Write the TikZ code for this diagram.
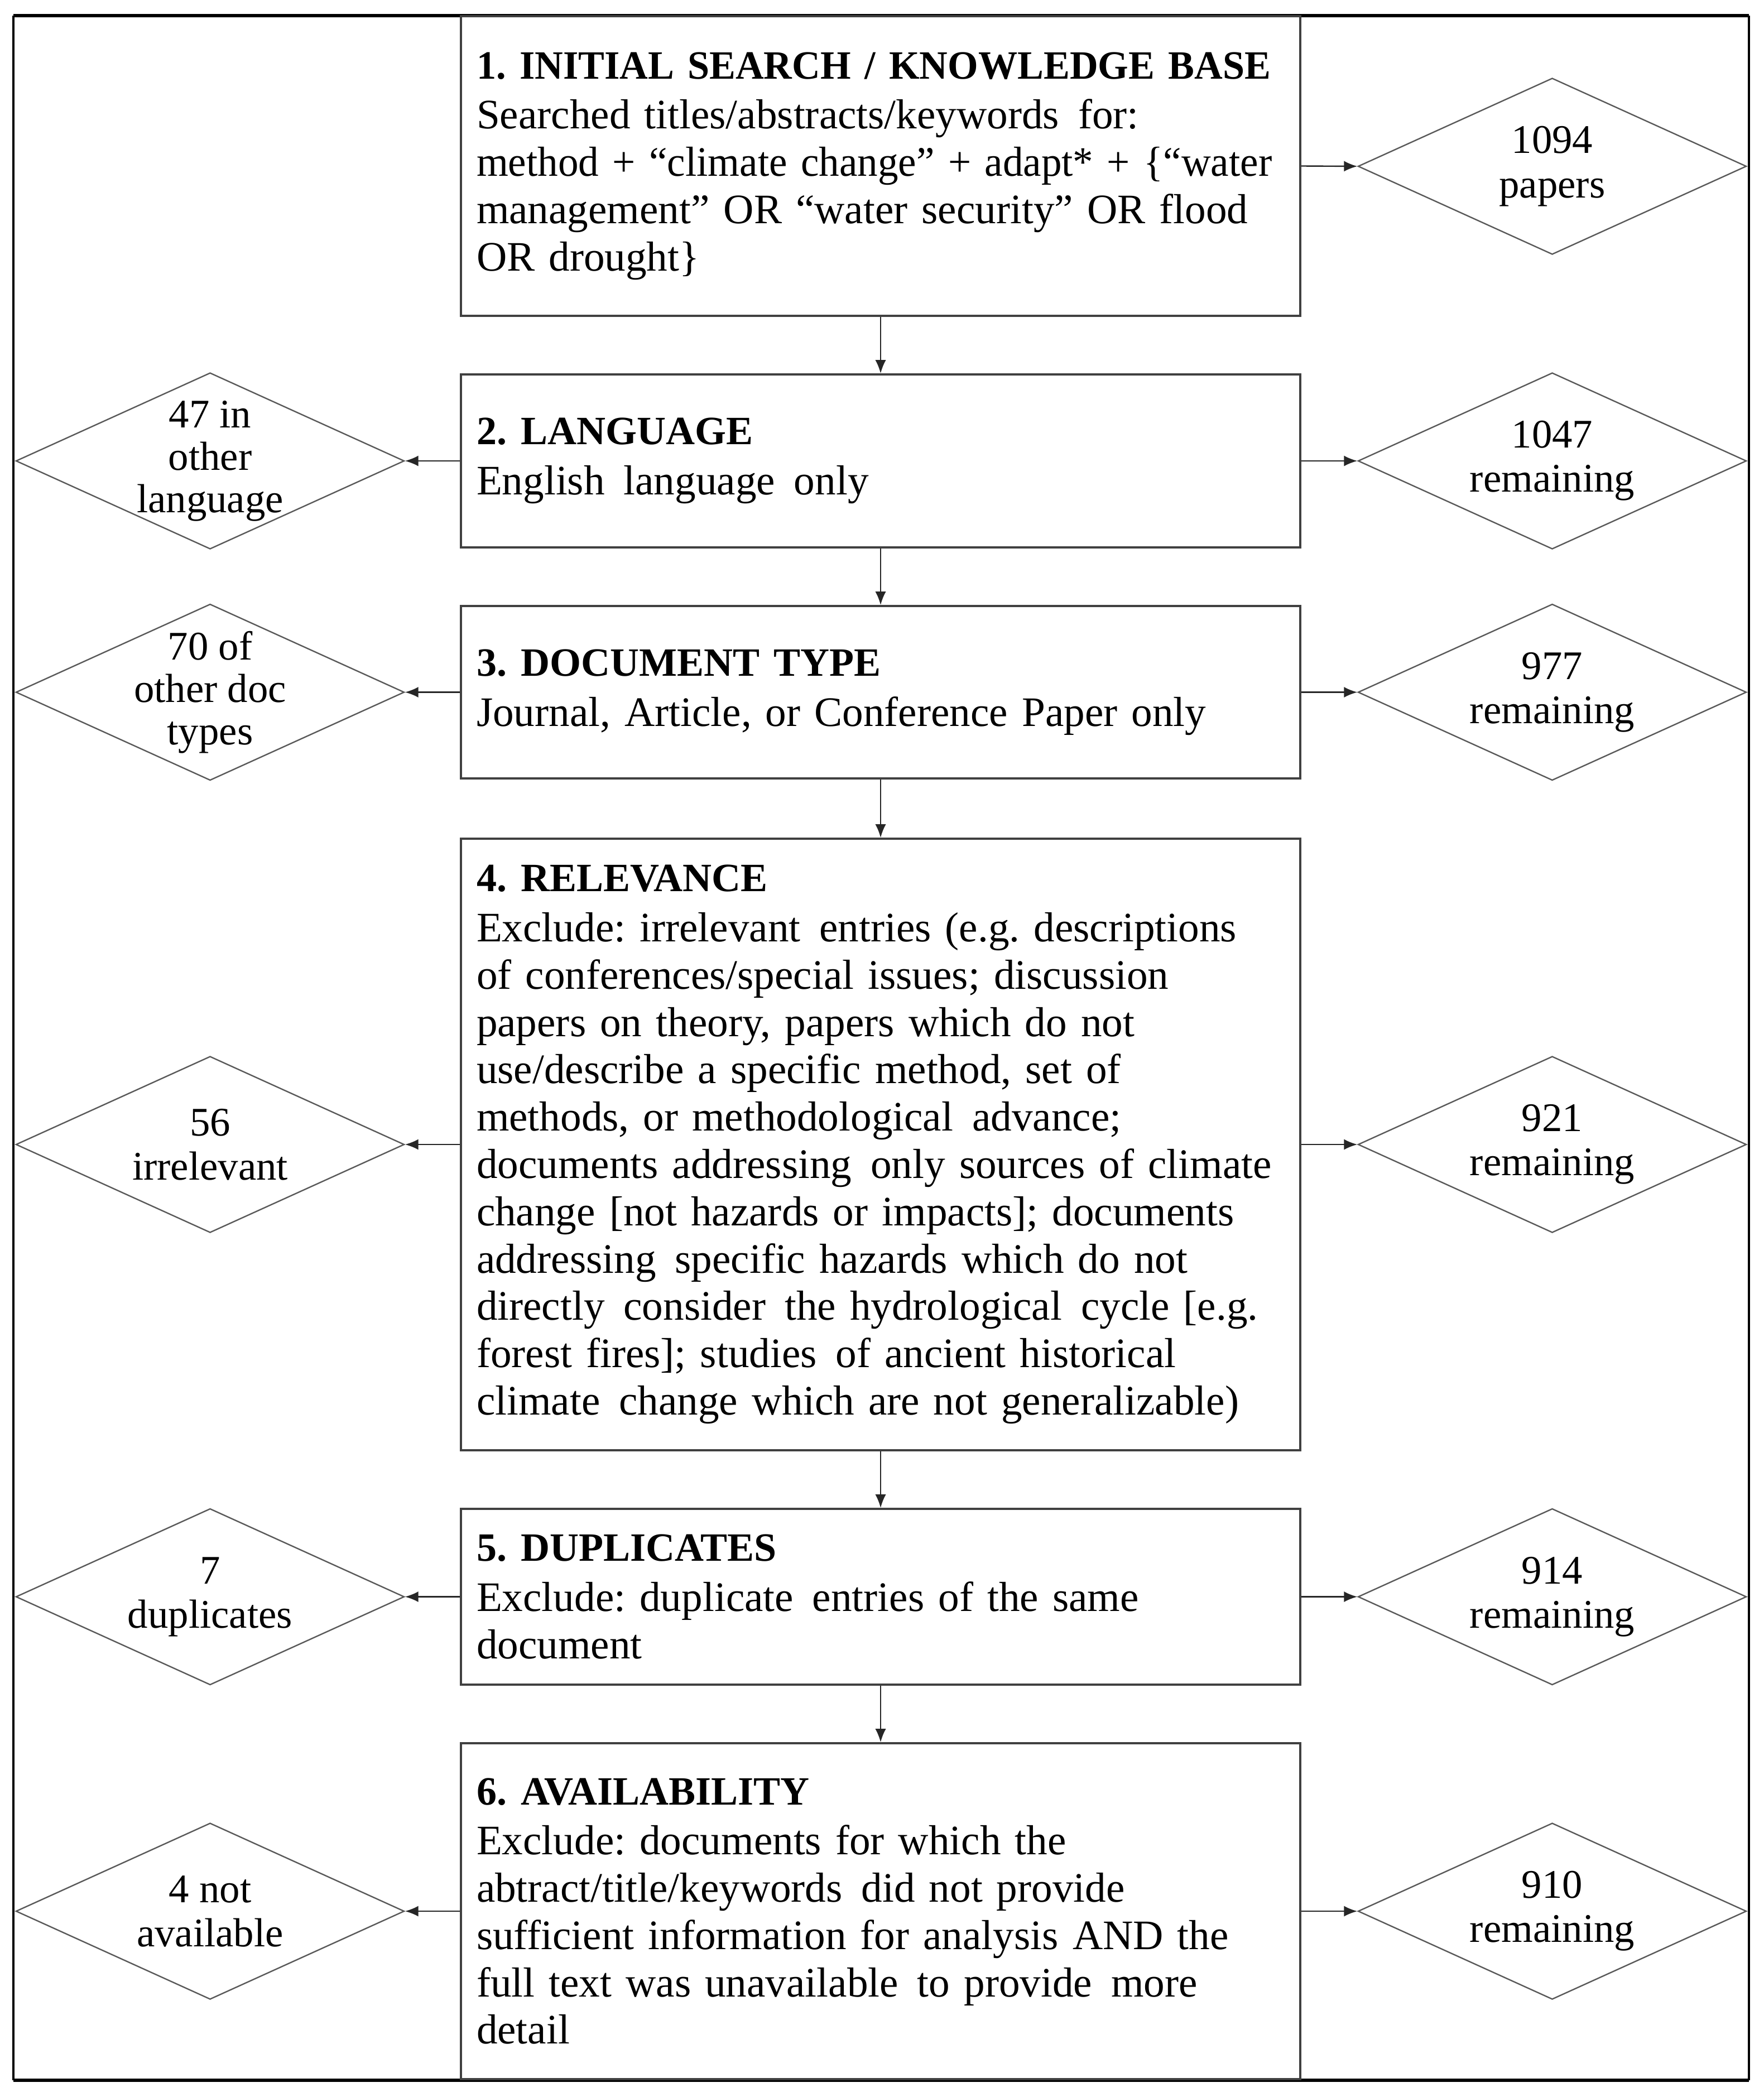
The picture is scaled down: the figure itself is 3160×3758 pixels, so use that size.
\documentclass[tikz,border=0pt]{standalone}
\usepackage{fontspec}
\setmainfont{Liberation Serif}
\usetikzlibrary{shapes.geometric,arrows.meta}
\newcommand\ttl[1]{{\fontsize{18}{21.2}\selectfont\bfseries #1}}
\newcommand\dsp{\hspace{0.45em}}
\begin{document}
\frenchspacing
\begin{tikzpicture}[x=0.25pt,y=-0.25pt,
  box/.style={draw=black!75, line width=0.9pt, rectangle, text width=362pt,
    inner xsep=7pt, inner ysep=0pt, align=left,
    font=\fontsize{18.8}{21.2}\selectfont, minimum height=#1},
  dia/.style={draw=black!65, line width=0.6pt, diamond, minimum width=174pt,
    minimum height=79pt, inner sep=0pt},
  dtext/.style={align=center, font=\fontsize{18.2}{19.8}\selectfont, inner sep=0pt},
  dtextc/.style={align=center, font=\fontsize{18.2}{19}\selectfont, inner sep=0pt},
  arr/.style={-{Latex[length=6pt,width=4.8pt]}, line width=0.6pt, black!85},
  frame/.style={line width=#1, black}]
\useasboundingbox (0,0) rectangle (3160,3758);
% outer frame
\coordinate (tl) at (24,28); \coordinate (tr) at (3134,28);
\coordinate (bl) at (24,3728); \coordinate (br) at (3134,3728);
\draw[frame=1.4pt] (tl) -- (tr);
\draw[frame=1.4pt] (bl) -- (br);
\draw[frame=0.8pt] (tl) -- (bl);
\draw[frame=0.8pt] (tr) -- (br);
% boxes
\node[box=134.25pt] (b1) at (1578,297.5) {\mbox{\scalebox{0.975}[1]{\ttl{1. INITIAL SEARCH / KNOWLEDGE BASE}}}\\[1.2pt]
\mbox{Searched titles/abstracts/keywords\dsp for:}\\
\mbox{\scalebox{0.972}[1]{method + “climate change” + adapt* + \{“water}}\\
\mbox{management” OR “water security” OR flood}\\
OR drought\}};
\node[box=77.5pt] (b2) at (1578,826) {\ttl{2. LANGUAGE}\\[1.2pt]
English\dsp language\dsp only};
\node[box=77.25pt] (b3) at (1578,1240.5) {\ttl{3. DOCUMENT TYPE}\\[1.2pt]
\mbox{Journal, Article, or Conference Paper only}};
\node[box=274pt] (b4) at (1578,2051) {\ttl{4. RELEVANCE}\\[1.2pt]
\mbox{Exclude: irrelevant\dsp entries (e.g. descriptions}\\
of conferences/special issues; discussion\\
papers on theory, papers which do not\\
use/describe a specific method, set of\\
methods, or methodological\dsp advance;\\
\mbox{documents addressing\dsp only sources of climate}\\
\mbox{change [not hazards or impacts]; documents}\\
addressing\dsp specific hazards which do not\\
\mbox{directly\dsp consider\dsp the hydrological\dsp cycle [e.g.}\\
forest fires]; studies\dsp of ancient historical\\
\mbox{climate\dsp change which are not generalizable)}};
\node[box=78.75pt] (b5) at (1578,2861.5) {\ttl{5. DUPLICATES}\\[1.2pt]
Exclude: duplicate\dsp entries of the same\\
document};
\node[box=150.5pt] (b6) at (1578,3425) {\ttl{6. AVAILABILITY}\\[1.2pt]
Exclude: documents for which the\\
abtract/title/keywords\dsp did not provide\\
\mbox{sufficient information for analysis AND the}\\
\mbox{full text was unavailable\dsp to provide\dsp more}\\
detail};
% right diamonds
\node[dia, label={[dtext]center:{1094\\papers}}] (r1) at (2781.5,298) {};
\node[dia, label={[dtext]center:{1047\\remaining}}] (r2) at (2781.5,826) {};
\node[dia, label={[dtext]center:{977\\remaining}}] (r3) at (2781.5,1240.5) {};
\node[dia, label={[dtext]center:{921\\remaining}}] (r4) at (2781.5,2051) {};
\node[dia, label={[dtext]center:{914\\remaining}}] (r5) at (2781.5,2861.5) {};
\node[dia, label={[dtext]center:{910\\remaining}}] (r6) at (2781.5,3425) {};
% left diamonds
\node[dia, label={[dtextc]center:{47 in\\other\\language}}] (l2) at (376.5,826) {};
\node[dia, label={[dtextc]center:{70 of\\other doc\\types}}] (l3) at (376.5,1240.5) {};
\node[dia, label={[dtext]center:{56\\irrelevant}}] (l4) at (376.5,2051) {};
\node[dia, label={[dtext]center:{7\\duplicates}}] (l5) at (376.5,2861.5) {};
\node[dia, label={[dtext]center:{4 not\\available}}] (l6) at (376.5,3425) {};
% vertical arrows
\draw[arr] (b1) -- (b2);
\draw[arr] (b2) -- (b3);
\draw[arr] (b3) -- (b4);
\draw[arr] (b4) -- (b5);
\draw[arr] (b5) -- (b6);
% horizontal arrows
\draw[arr] (b1.east) -- (r1.west);
\draw[arr] (b2.east) -- (r2.west);
\draw[arr] (b3.east) -- (r3.west);
\draw[arr] (b4.east) -- (r4.west);
\draw[arr] (b5.east) -- (r5.west);
\draw[arr] (b6.east) -- (r6.west);
\draw[arr] (b2.west) -- (l2.east);
\draw[arr] (b3.west) -- (l3.east);
\draw[arr] (b4.west) -- (l4.east);
\draw[arr] (b5.west) -- (l5.east);
\draw[arr] (b6.west) -- (l6.east);
\end{tikzpicture}
\end{document}
